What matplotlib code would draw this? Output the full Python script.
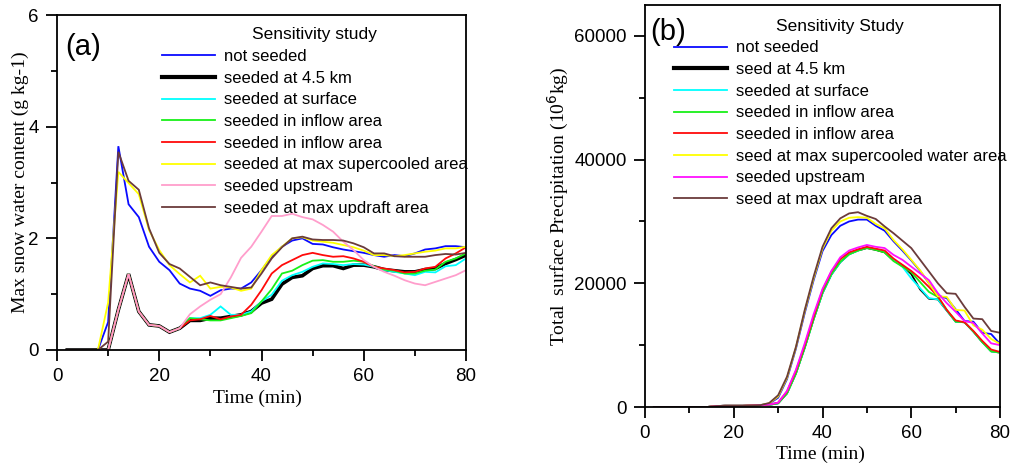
import matplotlib
matplotlib.use("Agg")
import matplotlib.pyplot as plt
from matplotlib.ticker import MultipleLocator

SANS = "Liberation Sans"
SERIF = "Liberation Serif"

time = list(range(2, 81, 2))

# ---------------- (a) max snow water content (g/kg) ----------------
low_a = [0, 0, 0, 0, 0, 0.72, 1.36, 0.69, 0.45, 0.43, 0.32, 0.39]  # t = 2..24

snow_not_seeded = [0, 0, 0, 0, 0.50, 3.65, 2.61, 2.38, 1.85, 1.58, 1.43, 1.19, 1.10, 1.06,
                   0.97, 1.07, 1.10, 1.10, 1.21, 1.43, 1.67, 1.85, 1.96, 2.00,
                   1.90, 1.89, 1.84, 1.80, 1.77, 1.74, 1.70, 1.67, 1.70, 1.68,
                   1.73, 1.80, 1.82, 1.86, 1.86, 1.84]
snow_45km = low_a + [0.53, 0.53, 0.57, 0.57, 0.60, 0.63, 0.69, 0.84, 0.91, 1.18,
                     1.30, 1.33, 1.46, 1.51, 1.51, 1.46, 1.52, 1.52, 1.49, 1.44,
                     1.42, 1.40, 1.40, 1.44, 1.46, 1.55, 1.62, 1.70]
snow_surface = low_a + [0.57, 0.57, 0.63, 0.78, 0.63, 0.63, 0.69, 0.87, 0.99, 1.24,
                        1.34, 1.40, 1.49, 1.55, 1.54, 1.52, 1.54, 1.53, 1.49, 1.43,
                        1.40, 1.37, 1.34, 1.40, 1.39, 1.50, 1.52, 1.64]
snow_inflow1 = low_a + [0.57, 0.55, 0.53, 0.53, 0.57, 0.61, 0.66, 0.87, 1.09, 1.37,
                        1.42, 1.52, 1.60, 1.61, 1.58, 1.58, 1.60, 1.58, 1.50, 1.44,
                        1.42, 1.37, 1.37, 1.42, 1.44, 1.58, 1.64, 1.73]
snow_inflow2 = low_a + [0.53, 0.55, 0.61, 0.55, 0.60, 0.63, 0.81, 1.07, 1.37, 1.52,
                        1.61, 1.70, 1.74, 1.70, 1.67, 1.68, 1.64, 1.58, 1.49, 1.46,
                        1.43, 1.39, 1.40, 1.46, 1.49, 1.64, 1.73, 1.84]
snow_supercooled = [0, 0, 0, 0, 0.85, 3.19, 2.99, 2.79, 2.15, 1.79, 1.52, 1.36, 1.21, 1.33,
                    1.10, 1.13, 1.12, 1.06, 1.10, 1.43, 1.70, 1.85, 2.00, 2.02,
                    1.96, 1.94, 1.92, 1.88, 1.84, 1.78, 1.70, 1.70, 1.68, 1.70,
                    1.73, 1.76, 1.78, 1.82, 1.82, 1.85]
snow_upstream = low_a + [0.64, 0.78, 0.90, 1.00, 1.30, 1.65, 1.85, 2.12, 2.40, 2.40,
                         2.44, 2.38, 2.34, 2.24, 2.12, 1.94, 1.79, 1.61, 1.49, 1.40,
                         1.33, 1.25, 1.19, 1.16, 1.22, 1.28, 1.34, 1.43]
snow_updraft = [0, 0, 0, 0, 0.15, 3.55, 3.03, 2.87, 2.18, 1.74, 1.54, 1.46, 1.31, 1.16,
                1.21, 1.16, 1.13, 1.10, 1.12, 1.37, 1.64, 1.84, 2.00, 2.03,
                1.98, 1.97, 1.97, 1.96, 1.91, 1.84, 1.73, 1.73, 1.68, 1.67,
                1.67, 1.67, 1.70, 1.72, 1.71, 1.74]

labels_a = ["not seeded", "seeded at 4.5 km", "seeded at surface", "seeded in inflow area",
            "seeded in inflow area", "seeded at max supercooled area", "seeded upstream",
            "seeded at max updraft area"]

# ---------------- (b) total surface precipitation (1e6 kg) ----------------
early_b = [0, 0, 0, 0, 0, 0, 0, 150, 200, 200, 200, 250, 300]  # t = 2..26

precip_not_seeded = early_b + [550, 1500, 4500, 9400, 15200, 20500, 25200, 27800, 29300, 30000,
                               30300, 30300, 29300, 28500, 26800, 25300, 23700, 22000, 20000, 18000,
                               17600, 15800, 13900, 13800, 12000, 11800, 10200]
precip_45km = early_b + [350, 600, 2200, 5400, 9600, 14200, 18400, 21400, 23400, 24700,
                         25300, 25700, 25400, 25000, 23700, 22900, 21500, 19000, 17500, 17400,
                         15600, 13800, 13700, 12200, 10500, 9000, 8800]
precip_surface = early_b + [350, 600, 2200, 5400, 9600, 14200, 18400, 21400, 23400, 24700,
                            25300, 25800, 25500, 25100, 23800, 22700, 20800, 19200, 17600, 17400,
                            15600, 13800, 13700, 12200, 10500, 9000, 8800]
precip_inflow1 = early_b + [350, 600, 2200, 5400, 9600, 14200, 18500, 21500, 23500, 24700,
                            25300, 25700, 25400, 25000, 23600, 22700, 21800, 20200, 18600, 17800,
                            15700, 13800, 13700, 12200, 10500, 9000, 8800]
precip_inflow2 = early_b + [400, 700, 2500, 5800, 10000, 14600, 18900, 21900, 23900, 25000,
                            25500, 25900, 25600, 25300, 24000, 23000, 22000, 20800, 19400, 17900,
                            15700, 14000, 13700, 12300, 10700, 9300, 8900]
precip_supercooled = early_b + [600, 1700, 4700, 9600, 15500, 20800, 25600, 28500, 30000, 30600,
                                30700, 30600, 29600, 28900, 27000, 25500, 23800, 22100, 20000, 17900,
                                17800, 15700, 15600, 13200, 12500, 11000, 10200]
precip_upstream = early_b + [400, 700, 2600, 6000, 10300, 15000, 19100, 22000, 24200, 25300,
                             25800, 26200, 25900, 25700, 24600, 23800, 22700, 21600, 20500, 18400,
                             16800, 15400, 13900, 13600, 11900, 10300, 10000]
precip_updraft = early_b + [650, 1900, 4900, 9700, 15700, 21100, 25900, 28900, 30500, 31300,
                            31500, 30900, 30400, 29200, 28100, 26900, 25700, 23800, 21900, 20000,
                            18400, 18300, 16200, 14300, 14200, 12300, 12000]

labels_b = ["not seeded", "seed at 4.5 km", "seeded at surface", "seeded in inflow area",
            "seeded in inflow area", "seed at max supercooled water area", "seeded upstream",
            "seed at max updraft area"]

colors_a = ["#0a0aff", "#000000", "#00ffff", "#18f018", "#ff0a0a", "#ffff00", "#ff9ecc", "#6b3b3b"]
colors_b = ["#0a0aff", "#000000", "#00ffff", "#18f018", "#ff0a0a", "#ffff00", "#ff10ff", "#6b3b3b"]

series_a = [snow_not_seeded, snow_45km, snow_surface, snow_inflow1, snow_inflow2,
            snow_supercooled, snow_upstream, snow_updraft]
series_b = [precip_not_seeded, precip_45km, precip_surface, precip_inflow1, precip_inflow2,
            precip_supercooled, precip_upstream, precip_updraft]

W, H = 1013, 468
fig = plt.figure(figsize=(W / 100, H / 100), dpi=100)


def px_axes(left, top, right, bottom):
    return fig.add_axes([left / W, 1 - bottom / H, (right - left) / W, (bottom - top) / H])


ax_a = px_axes(57, 15, 466, 350)
ax_b = px_axes(645, 5, 1000, 407)


def style_axes(ax, ymajor, yminor):
    ax.xaxis.set_major_locator(MultipleLocator(20))
    ax.xaxis.set_minor_locator(MultipleLocator(10))
    ax.yaxis.set_major_locator(MultipleLocator(ymajor))
    ax.yaxis.set_minor_locator(MultipleLocator(yminor))
    ax.tick_params(which="major", direction="out", length=8, width=1.3,
                   labelsize=13.5, pad=5, top=False, right=False)
    ax.tick_params(which="minor", direction="out", length=4.5, width=1.3,
                   top=False, right=False)
    for lab in ax.get_xticklabels() + ax.get_yticklabels():
        lab.set_fontfamily(SANS)
    for sp in ax.spines.values():
        sp.set_linewidth(1.3)


def add_legend(ax, title, x, y, thick_lw):
    leg = ax.legend(title=title, loc="upper left", bbox_to_anchor=(x, y),
                    frameon=False, borderaxespad=0, borderpad=0,
                    handlelength=3.2, handletextpad=0.5, labelspacing=0.4,
                    prop={"family": SANS, "size": 12},
                    title_fontproperties={"family": SANS, "size": 12.5})
    leg.legend_handles[1].set_linewidth(thick_lw)
    return leg


# ---- panel (a)
for vals, lab, col in zip(series_a, labels_a, colors_a):
    lw = 2.6 if col == "#000000" else 1.3
    ax_a.plot(time, vals, color=col, lw=lw, label=lab, solid_joinstyle="miter")
ax_a.set_xlim(0, 80)
ax_a.set_ylim(0, 6)
style_axes(ax_a, 2, 1)
add_legend(ax_a, "Sensitivity study", 0.257, 0.963, 3.0)
ax_a.text(0.02, 0.905, "(a)", transform=ax_a.transAxes, fontsize=21,
          family=SANS, ha="left", va="center")
ax_a.set_ylabel("Max snow water content (g kg-1)", family=SERIF, fontsize=14)
ax_a.yaxis.set_label_coords(-0.09, 0.5)
ax_a.yaxis.label.set_verticalalignment("center")
ax_a.set_xlabel("Time (min)", family=SERIF, fontsize=14)
ax_a.xaxis.set_label_coords(0.49, -0.143)
ax_a.xaxis.label.set_verticalalignment("center")

# ---- panel (b)
for vals, lab, col in zip(series_b, labels_b, colors_b):
    ax_b.plot(time, vals, color=col, lw=1.3, label=lab)
ax_b.set_xlim(0, 80)
ax_b.set_ylim(0, 65000)
style_axes(ax_b, 20000, 10000)
add_legend(ax_b, "Sensitivity Study", 0.082, 0.966, 3.0)
ax_b.text(0.015, 0.932, "(b)", transform=ax_b.transAxes, fontsize=21,
          family=SANS, ha="left", va="center")
ax_b.set_ylabel("Total  surface Precipitation (10$^6$kg)", family=SERIF, fontsize=14)
ax_b.yaxis.set_label_coords(-0.245, 0.5)
ax_b.yaxis.label.set_verticalalignment("center")
ax_b.set_xlabel("Time (min)", family=SERIF, fontsize=14)
ax_b.xaxis.set_label_coords(0.493, -0.119)
ax_b.xaxis.label.set_verticalalignment("center")

fig.savefig("out.png", dpi=100)
